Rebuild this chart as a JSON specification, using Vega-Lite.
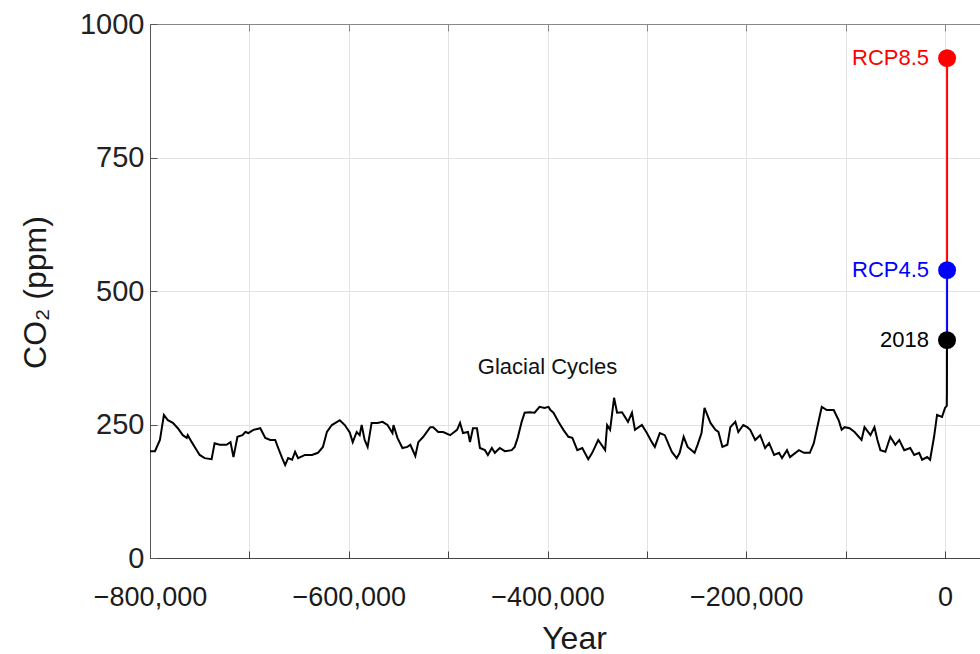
{
  "$schema": "https://vega.github.io/schema/vega-lite/v6.json",
  "width": 830,
  "height": 534,
  "autosize": {"type": "none"},
  "padding": {"left": 150, "top": 24, "right": 0, "bottom": 96},
  "background": "white",
  "config": {
    "font": "Liberation Sans",
    "view": {"stroke": null}
  },
  "datasets": {
    "co2": [
      {"year": -800000, "co2": 200}, {"year": -795000, "co2": 200}, {"year": -790000, "co2": 221},
      {"year": -786000, "co2": 268}, {"year": -782000, "co2": 258}, {"year": -777000, "co2": 253},
      {"year": -772000, "co2": 243}, {"year": -767000, "co2": 230}, {"year": -763000, "co2": 225},
      {"year": -762000, "co2": 230}, {"year": -758000, "co2": 217}, {"year": -755000, "co2": 208},
      {"year": -750000, "co2": 193}, {"year": -745000, "co2": 187}, {"year": -738000, "co2": 185},
      {"year": -735000, "co2": 215}, {"year": -730000, "co2": 212}, {"year": -723000, "co2": 212},
      {"year": -719000, "co2": 217}, {"year": -716000, "co2": 189}, {"year": -712000, "co2": 227},
      {"year": -707000, "co2": 230}, {"year": -704000, "co2": 236}, {"year": -701000, "co2": 234},
      {"year": -696000, "co2": 240}, {"year": -689000, "co2": 243}, {"year": -684000, "co2": 225},
      {"year": -679000, "co2": 221}, {"year": -674000, "co2": 221}, {"year": -671000, "co2": 206},
      {"year": -667000, "co2": 187}, {"year": -664000, "co2": 174}, {"year": -661000, "co2": 187},
      {"year": -657000, "co2": 184}, {"year": -654000, "co2": 199}, {"year": -651000, "co2": 187},
      {"year": -644000, "co2": 193}, {"year": -637000, "co2": 193}, {"year": -631000, "co2": 197},
      {"year": -626000, "co2": 208}, {"year": -622000, "co2": 236}, {"year": -617000, "co2": 249},
      {"year": -609000, "co2": 258}, {"year": -604000, "co2": 249}, {"year": -599000, "co2": 235},
      {"year": -596000, "co2": 217}, {"year": -592000, "co2": 236}, {"year": -589000, "co2": 230},
      {"year": -587000, "co2": 249}, {"year": -584000, "co2": 221}, {"year": -581000, "co2": 208},
      {"year": -577000, "co2": 253}, {"year": -571000, "co2": 253}, {"year": -566000, "co2": 255},
      {"year": -561000, "co2": 249}, {"year": -556000, "co2": 234}, {"year": -555000, "co2": 249},
      {"year": -551000, "co2": 225}, {"year": -546000, "co2": 206}, {"year": -541000, "co2": 208},
      {"year": -538000, "co2": 212}, {"year": -533000, "co2": 191}, {"year": -530000, "co2": 217},
      {"year": -525000, "co2": 227}, {"year": -518000, "co2": 245}, {"year": -515000, "co2": 245},
      {"year": -510000, "co2": 236}, {"year": -505000, "co2": 236}, {"year": -498000, "co2": 230},
      {"year": -491000, "co2": 240}, {"year": -488000, "co2": 253}, {"year": -485000, "co2": 234},
      {"year": -480000, "co2": 236}, {"year": -478000, "co2": 217}, {"year": -475000, "co2": 243},
      {"year": -471000, "co2": 243}, {"year": -468000, "co2": 206}, {"year": -463000, "co2": 202},
      {"year": -460000, "co2": 193}, {"year": -456000, "co2": 206}, {"year": -453000, "co2": 197},
      {"year": -448000, "co2": 206}, {"year": -443000, "co2": 200}, {"year": -436000, "co2": 202},
      {"year": -433000, "co2": 208}, {"year": -430000, "co2": 225}, {"year": -426000, "co2": 255},
      {"year": -423000, "co2": 272}, {"year": -418000, "co2": 273}, {"year": -413000, "co2": 272},
      {"year": -408000, "co2": 283}, {"year": -403000, "co2": 281}, {"year": -399000, "co2": 283},
      {"year": -397000, "co2": 277}, {"year": -394000, "co2": 272}, {"year": -389000, "co2": 255},
      {"year": -384000, "co2": 240}, {"year": -379000, "co2": 227}, {"year": -375000, "co2": 225},
      {"year": -370000, "co2": 202}, {"year": -365000, "co2": 206}, {"year": -359000, "co2": 185},
      {"year": -355000, "co2": 197}, {"year": -349000, "co2": 221}, {"year": -342000, "co2": 202},
      {"year": -340000, "co2": 249}, {"year": -337000, "co2": 240}, {"year": -333000, "co2": 300},
      {"year": -330000, "co2": 272}, {"year": -325000, "co2": 273}, {"year": -319000, "co2": 255},
      {"year": -315000, "co2": 272}, {"year": -312000, "co2": 240}, {"year": -305000, "co2": 249},
      {"year": -300000, "co2": 234}, {"year": -295000, "co2": 217}, {"year": -292000, "co2": 208},
      {"year": -287000, "co2": 234}, {"year": -282000, "co2": 230}, {"year": -275000, "co2": 199},
      {"year": -270000, "co2": 187}, {"year": -267000, "co2": 197}, {"year": -263000, "co2": 227},
      {"year": -259000, "co2": 208}, {"year": -252000, "co2": 197}, {"year": -249000, "co2": 212},
      {"year": -245000, "co2": 234}, {"year": -242000, "co2": 281}, {"year": -236000, "co2": 253},
      {"year": -231000, "co2": 240}, {"year": -228000, "co2": 236}, {"year": -224000, "co2": 208},
      {"year": -219000, "co2": 212}, {"year": -216000, "co2": 245}, {"year": -211000, "co2": 255},
      {"year": -208000, "co2": 236}, {"year": -203000, "co2": 249}, {"year": -199000, "co2": 245},
      {"year": -196000, "co2": 240}, {"year": -191000, "co2": 221}, {"year": -186000, "co2": 230},
      {"year": -181000, "co2": 206}, {"year": -177000, "co2": 215}, {"year": -172000, "co2": 193},
      {"year": -167000, "co2": 197}, {"year": -164000, "co2": 187}, {"year": -159000, "co2": 202},
      {"year": -156000, "co2": 189}, {"year": -147000, "co2": 202}, {"year": -142000, "co2": 197},
      {"year": -136000, "co2": 197}, {"year": -132000, "co2": 215}, {"year": -127000, "co2": 258},
      {"year": -124000, "co2": 283}, {"year": -119000, "co2": 277}, {"year": -112000, "co2": 277},
      {"year": -107000, "co2": 258}, {"year": -104000, "co2": 240}, {"year": -101000, "co2": 245},
      {"year": -96000, "co2": 243}, {"year": -91000, "co2": 236}, {"year": -84000, "co2": 221},
      {"year": -81000, "co2": 245}, {"year": -75000, "co2": 230}, {"year": -71000, "co2": 245},
      {"year": -68000, "co2": 221}, {"year": -65000, "co2": 202}, {"year": -60000, "co2": 199},
      {"year": -55000, "co2": 227}, {"year": -50000, "co2": 212}, {"year": -46000, "co2": 221},
      {"year": -41000, "co2": 202}, {"year": -35000, "co2": 206}, {"year": -31000, "co2": 193},
      {"year": -26000, "co2": 197}, {"year": -23000, "co2": 184}, {"year": -18000, "co2": 189},
      {"year": -15000, "co2": 184}, {"year": -11000, "co2": 227}, {"year": -8000, "co2": 268},
      {"year": -3000, "co2": 264}, {"year": 0, "co2": 281}, {"year": 1800, "co2": 285},
      {"year": 1950, "co2": 311}, {"year": 2018, "co2": 408}
    ],
    "scenarios": [
      {"label": "RCP4.5", "year": 2100, "from": 408, "co2": 539},
      {"label": "RCP8.5", "year": 2100, "from": 539, "co2": 936}
    ],
    "markers": [
      {"label": "2018", "year": 2018, "co2": 408},
      {"label": "RCP4.5", "year": 2100, "co2": 539},
      {"label": "RCP8.5", "year": 2100, "co2": 936}
    ],
    "notes": [
      {"text": "Glacial Cycles", "year": -400000, "co2": 358}
    ]
  },
  "resolve": {"axis": {"x": "independent"}},
  "layer": [
    {
      "data": {"name": "co2"},
      "mark": {"type": "line", "color": "black", "strokeWidth": 2},
      "encoding": {
        "x": {
          "field": "year",
          "type": "quantitative",
          "scale": {"domain": [-800000, 35220], "nice": false, "zero": false},
          "axis": {
            "title": "Year",
            "values": [-800000, -700000, -600000, -500000, -400000, -300000, -200000, -100000, 0],
            "labelExpr": "datum.value % 200000 == 0 ? format(datum.value, ',') : ''",
            "grid": true,
            "gridColor": "#e3e3e3",
            "domainColor": "#444",
            "tickColor": "#444",
            "tickSize": -7,
            "labelFontSize": 27,
            "labelColor": "#1a1a1a",
            "labelPadding": 33,
            "labelFlush": false,
            "labelOverlap": false,
            "titleFontSize": 32,
            "titleFontWeight": "normal",
            "titleColor": "#1a1a1a",
            "titleX": 424,
            "titleY": 90,
            "titleBaseline": "alphabetic",
            "titleAlign": "center"
          }
        },
        "y": {
          "field": "co2",
          "type": "quantitative",
          "scale": {"domain": [0, 1000], "nice": false},
          "axis": {
            "title": "CO₂ (ppm)",
            "values": [0, 250, 500, 750, 1000],
            "format": "d",
            "grid": true,
            "gridColor": "#e3e3e3",
            "domainColor": "#555",
            "tickColor": "#555",
            "tickSize": -7,
            "labelFontSize": 29,
            "labelColor": "#222",
            "labelPadding": 13,
            "labelFlush": false,
            "titleFontSize": 32,
            "titleFontWeight": "normal",
            "titleColor": "#1a1a1a",
            "titleAngle": -90,
            "titleX": -115,
            "titleY": 268,
            "titleBaseline": "middle",
            "titleAlign": "center"
          }
        }
      }
    },
    {
      "data": {"name": "scenarios"},
      "mark": {"type": "rule", "strokeWidth": 2},
      "encoding": {
        "x": {"field": "year", "type": "quantitative", "axis": null},
        "y": {"field": "co2", "type": "quantitative"},
        "y2": {"field": "from"},
        "color": {
          "field": "label",
          "type": "nominal",
          "scale": {"domain": ["2018", "RCP4.5", "RCP8.5"], "range": ["#000000", "#0000ff", "#ff0000"]},
          "legend": null
        }
      }
    },
    {
      "data": {"name": "markers"},
      "mark": {"type": "circle", "size": 320, "opacity": 1},
      "encoding": {
        "x": {"field": "year", "type": "quantitative", "axis": null},
        "y": {"field": "co2", "type": "quantitative"},
        "color": {"field": "label", "type": "nominal", "legend": null}
      }
    },
    {
      "data": {"name": "markers"},
      "mark": {"type": "text", "align": "right", "baseline": "middle", "dx": -18, "fontSize": 22},
      "encoding": {
        "x": {"field": "year", "type": "quantitative", "axis": null},
        "y": {"field": "co2", "type": "quantitative"},
        "text": {"field": "label"},
        "color": {"field": "label", "type": "nominal", "legend": null}
      }
    },
    {
      "data": {"name": "notes"},
      "mark": {"type": "text", "align": "center", "baseline": "middle", "fontSize": 22, "color": "#111"},
      "encoding": {
        "x": {
          "field": "year",
          "type": "quantitative",
          "axis": {
            "orient": "top",
            "title": null,
            "values": [-800000, -700000, -600000, -500000, -400000, -300000, -200000, -100000, 0],
            "labels": false,
            "grid": false,
            "domainColor": "#888",
            "tickColor": "#888",
            "tickSize": -7
          }
        },
        "y": {"field": "co2", "type": "quantitative"},
        "text": {"field": "text"}
      }
    }
  ]
}
